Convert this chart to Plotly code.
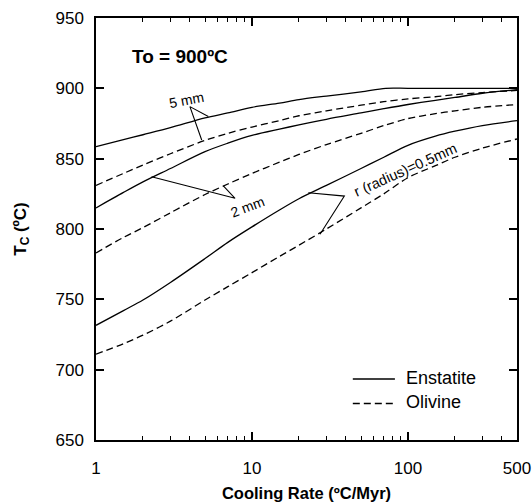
import numpy as np
import plotly.graph_objects as go

# ---- data ----
rate = [1, 1.5, 2, 3, 5, 7, 10, 15, 20, 30, 50, 70, 100, 150, 200, 300, 500]

en_5mm_x = [1, 1.5, 2, 3, 5, 7, 10, 15, 20, 30, 50, 72, 100, 200, 500]
en_5mm_y = [858.5, 863.5, 867, 872, 879, 882.5, 886.5, 889.5, 892, 894.5, 897.5, 900, 900, 900, 900]

ol_5mm = [831, 839.5, 845.5, 853.5, 863, 868, 872.5, 877, 880.5, 884, 888, 890.5, 892.5, 894, 895.5, 897, 898.5]
en_2mm = [815, 826, 833.5, 843, 855, 861, 866.5, 871, 874, 878, 882.5, 885.5, 888.5, 891.5, 893.5, 896.5, 899]
ol_2mm = [783, 794, 801, 811.5, 824.5, 832, 839.5, 847.5, 853, 860, 868, 873.5, 878.5, 882, 884, 886.5, 888.5]
en_05mm = [731.5, 742, 749.5, 762, 779, 790.5, 801.5, 813.5, 821.5, 831, 843, 851, 859.5, 866, 869.5, 873.5, 877]
ol_05mm = [711, 718.5, 724.5, 734.5, 749.5, 759, 769, 780.5, 788.5, 800, 815, 825, 836.5, 845, 851, 857.5, 864]

# label pointers (polyline: end on enstatite curve -> apex -> end on olivine curve)
ptr_5mm_x = [5.25, 4.0, 4.76]
ptr_5mm_y = [880, 887, 863.3]
ptr_2mm_x = [2.27, 7.79, 6.55]
ptr_2mm_y = [837.2, 821.8, 830.6]
ptr_r_x = [22.96, 39.1, 27.3]
ptr_r_y = [825.8, 823.4, 796.3]

x_tickvals = [1, 10, 100, 500]
x_ticktext = ["1", "10", "100", "500"]
x_minor = [2, 3, 4, 5, 6, 7, 8, 9, 20, 30, 40, 50, 60, 70, 80, 90, 200, 300, 400]
y_tickvals = [650, 700, 750, 800, 850, 900, 950]

FONT = "Liberation Sans, Arial, sans-serif"
LW = 1.3
DASH = "7px,4px"
TICKC = "black"

fig = go.Figure()

def add_line(x, y, dash=None, shape="spline"):
    fig.add_trace(go.Scatter(x=x, y=y, mode="lines", showlegend=False, hoverinfo="skip",
                             line=dict(color="black", width=LW, dash=dash, shape=shape,
                                       smoothing=0.9)))

add_line(en_5mm_x, en_5mm_y)
add_line(rate, ol_5mm, DASH)
add_line(rate, en_2mm)
add_line(rate, ol_2mm, DASH)
add_line(rate, en_05mm)
add_line(rate, ol_05mm, DASH)

# pointers drawn on the overlay x axis (same range) so that it gets rendered
for px, py in [(ptr_5mm_x, ptr_5mm_y), (ptr_2mm_x, ptr_2mm_y), (ptr_r_x, ptr_r_y)]:
    fig.add_trace(go.Scatter(x=px, y=py, xaxis="x2", mode="lines", showlegend=False,
                             hoverinfo="skip", line=dict(color="black", width=1.1)))

annotations = [
    dict(text="<b>To = 900ºC</b>", x=0.1995, y=0.9076, font=dict(size=19)),
    dict(text="5 mm", x=0.2138, y=0.8057, font=dict(size=14), textangle=-11),
    dict(text="2 mm", x=0.3587, y=0.5521, font=dict(size=14), textangle=-21),
    dict(text="r (radius)=0.5mm", x=0.734, y=0.6398, font=dict(size=14.5), textangle=-24),
    dict(text="Enstatite", x=0.7316, y=0.1460, font=dict(size=18), xanchor="left"),
    dict(text="Olivine", x=0.7316, y=0.0900, font=dict(size=18), xanchor="left"),
]
for a in annotations:
    a.setdefault("xanchor", "center")
    a.update(xref="paper", yref="paper", showarrow=False, yanchor="middle")
    a["font"].update(family=FONT, color="black")

shapes = [
    dict(type="line", xref="paper", yref="paper", x0=0.610, x1=0.710, y0=0.1445, y1=0.1445,
         line=dict(color="black", width=LW)),
    dict(type="line", xref="paper", yref="paper", x0=0.610, x1=0.710, y0=0.0865, y1=0.0865,
         line=dict(color="black", width=LW, dash=DASH)),
]

axis_common = dict(showline=True, linecolor="black", linewidth=1.5, mirror="ticks",
                   ticks="inside", ticklen=8, tickwidth=1.5, tickcolor=TICKC,
                   showgrid=False, zeroline=False, automargin=False,
                   tickfont=dict(family=FONT, size=17, color="black"))

xrange = [0, np.log10(500)]

fig.update_layout(
    width=532, height=504,
    margin=dict(l=96, r=15, t=18, b=64, autoexpand=False),
    paper_bgcolor="white", plot_bgcolor="white",
    font=dict(family=FONT, color="black"),
    annotations=annotations, shapes=shapes,
    xaxis=dict(type="log", range=xrange, tickvals=x_tickvals, ticktext=x_ticktext,
               ticklabelstandoff=12,
               title=dict(text="<b>Cooling Rate (ºC/Myr)</b>", font=dict(family=FONT, size=16.5), standoff=10),
               **axis_common),
    xaxis2=dict(type="log", range=xrange, overlaying="x", side="bottom", anchor="y",
                tickvals=x_minor, showticklabels=False, ticks="inside", ticklen=4.5,
                tickwidth=1.3, tickcolor=TICKC, mirror="ticks", showline=True,
                linecolor="black", linewidth=1.5, showgrid=False, zeroline=False,
                automargin=False),
    yaxis=dict(range=[650, 950], tickvals=y_tickvals, ticklabelstandoff=7,
               title=dict(text="<b>T<sub>C</sub> (ºC)</b>", font=dict(family=FONT, size=17), standoff=25),
               **axis_common),
)

fig.write_html("out.html")
